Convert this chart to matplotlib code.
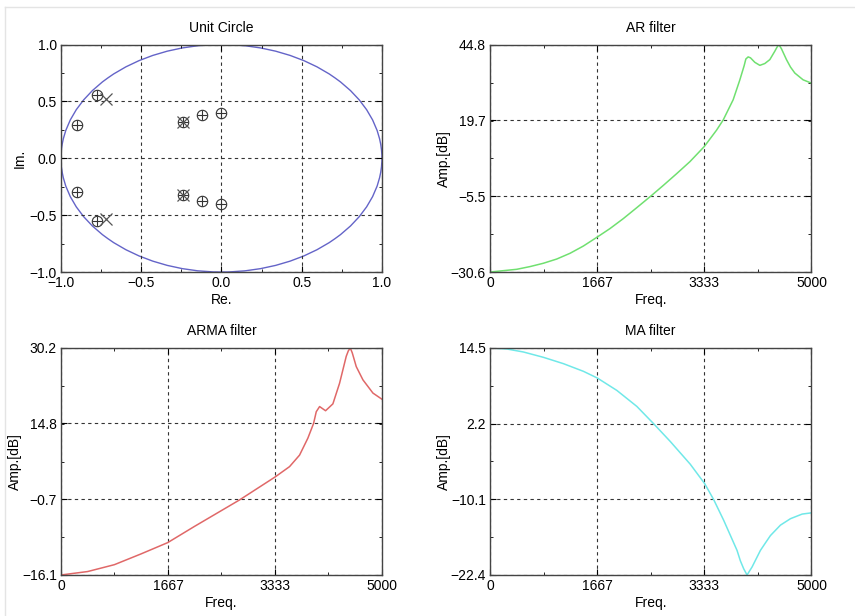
import numpy as np
import matplotlib.pyplot as plt
from matplotlib.patches import Circle
from matplotlib.ticker import AutoMinorLocator

plt.rcParams['font.family'] = ['Liberation Sans', 'DejaVu Sans']
plt.rcParams['font.size'] = 10

# zeros / poles
zero_re = [-0.774, -0.898, -0.898, -0.774, -0.239, -0.124, 0.0, -0.239, -0.124, 0.0]
zero_im = [0.554, 0.290, -0.296, -0.551, 0.320, 0.378, 0.399, -0.320, -0.378, -0.399]
pole_re = [-0.72, -0.72, -0.239, -0.239]
pole_im = [0.525, -0.530, 0.320, -0.320]

# AR filter (green)
ar_f = [0, 415, 622, 829, 1037, 1244, 1451, 1669, 1866, 2073, 2281, 2503, 2695, 2903,
        3110, 3333, 3523, 3627, 3782, 3886, 3953, 3979, 4015, 4051, 4119, 4197, 4274,
        4352, 4430, 4466, 4492, 4533, 4611, 4673, 4741, 4870, 5000]
ar_db = [-30.6, -29.7, -28.8, -27.7, -26.3, -24.4, -22.0, -19.0, -16.2, -12.9, -9.3, -5.4, -1.9, 2.0,
         6.0, 11.0, 16.4, 19.8, 26.5, 33.1, 37.8, 40.0, 40.7, 40.4, 38.9, 37.9, 38.5,
         39.8, 42.6, 44.0, 44.8, 43.4, 39.8, 37.35, 35.35, 33.1, 32.0]

# ARMA filter (red)
arma_f = [0, 416, 832, 1248, 1663, 2079, 2495, 2781, 3337, 3561, 3717, 3846, 3935, 3977,
          4029, 4122, 4236, 4340, 4444, 4476, 4507, 4538, 4600, 4704, 4860, 5000]
arma_db = [-16.1, -15.4, -14.0, -11.8, -9.5, -6.2, -3.0, -0.8, 3.9, 6.0, 8.35, 11.8, 14.8, 17.2,
           18.25, 17.4, 18.8, 23.0, 28.5, 29.6, 30.2, 29.2, 26.4, 23.7, 21.0, 19.75]

# MA filter (cyan)
ma_f = [0, 260, 519, 831, 1142, 1454, 1672, 1973, 2284, 2544, 2804, 3115, 3338, 3479,
        3634, 3842, 3894, 3946, 3998, 4076, 4206, 4283, 4361, 4517, 4673, 4855, 5000]
ma_db = [14.5, 14.34, 13.85, 12.98, 11.95, 10.7, 9.6, 7.6, 5.0, 2.2, -0.7, -4.4, -7.54, -10.15,
         -13.5, -18.4, -20.1, -21.4, -22.4, -21.1, -18.4, -17.2, -16.0, -14.3, -13.25, -12.5, -12.3]

freq_ticks = [0, 1667, 3333, 5000]
ar_ticks = [-30.6, -5.5, 19.7, 44.8]
arma_ticks = [-16.1, -0.7, 14.8, 30.2]
ma_ticks = [-22.4, -10.1, 2.2, 14.5]
uc_ticks = [-1.0, -0.5, 0.0, 0.5, 1.0]


def style(ax):
    ax.grid(True, which='major', linestyle=(0, (3, 3)), color='#333333', linewidth=0.8)
    ax.xaxis.set_minor_locator(AutoMinorLocator(2))
    ax.yaxis.set_minor_locator(AutoMinorLocator(2))
    ax.tick_params(which='both', direction='in', top=True, right=True, pad=3)
    ax.tick_params(which='major', length=4)
    ax.tick_params(which='minor', length=2.5)
    for s in ax.spines.values():
        s.set_color('#444444')
        s.set_linewidth(1.0)


fig = plt.figure(figsize=(8.55, 6.16), dpi=100)
fig.add_artist(plt.Line2D([0.006, 1.0], [0.989, 0.989], color='#e4e4e4', lw=1))
fig.add_artist(plt.Line2D([0.006, 0.006], [0.0, 0.989], color='#e4e4e4', lw=1))

ax1 = fig.add_axes([0.0713, 0.5584, 0.3754, 0.3693])
ax2 = fig.add_axes([0.5731, 0.5584, 0.3760, 0.3693])
ax3 = fig.add_axes([0.0713, 0.0666, 0.3754, 0.3685])
ax4 = fig.add_axes([0.5731, 0.0666, 0.3760, 0.3685])

# unit circle
ax1.add_patch(Circle((0, 0), 1.0, fill=False, edgecolor='#6464c8', linewidth=1.0))
ax1.plot(zero_re, zero_im, 'o', mfc='none', mec='#333333', ms=7.5, mew=0.8)
ax1.plot(zero_re, zero_im, '+', color='#333333', ms=7.5, mew=0.8)
ax1.plot(pole_re, pole_im, 'x', color='#555555', ms=9, mew=0.9)
ax1.set_xlim(-1, 1)
ax1.set_ylim(-1, 1)
ax1.set_xticks(uc_ticks)
ax1.set_yticks(uc_ticks)
ax1.set_title('Unit Circle', fontsize=10, pad=9)
ax1.set_xlabel('Re.', labelpad=2)
ax1.set_ylabel('Im.')
ax1.yaxis.set_label_coords(-0.106, 0.5)
style(ax1)

panels = [
    (ax2, ar_f, ar_db, ar_ticks, '#70e070', 'AR filter'),
    (ax3, arma_f, arma_db, arma_ticks, '#e06868', 'ARMA filter'),
    (ax4, ma_f, ma_db, ma_ticks, '#70e8e8', 'MA filter'),
]
for ax, f, db, yt, col, title in panels:
    ax.plot(f, db, color=col, linewidth=1.1)
    ax.set_xlim(0, 5000)
    ax.set_ylim(yt[0], yt[-1])
    ax.set_xticks(freq_ticks)
    ax.set_yticks(yt)
    ax.set_yticklabels([f'{v:.1f}'.replace('-', '\u2212') for v in yt])
    ax.set_title(title, fontsize=10, pad=9)
    ax.set_xlabel('Freq.', labelpad=2)
    ax.set_ylabel('Amp.[dB]')
    ax.yaxis.set_label_coords(-0.12, 0.5)
    style(ax)

fig.savefig('out.png', dpi=100)
